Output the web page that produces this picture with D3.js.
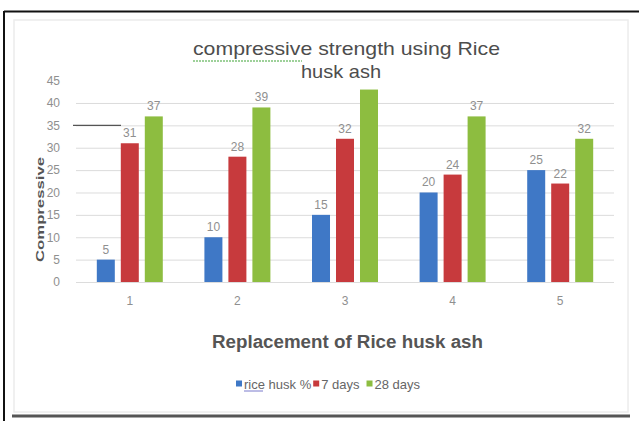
<!DOCTYPE html>
<html>
<head>
<meta charset="utf-8">
<script src="https://cdn.jsdelivr.net/npm/d3@7"></script>
<style>
  html, body { margin: 0; padding: 0; background: #fff; }
  svg { display: block; }
  .narrow { font-family: "Liberation Sans Narrow", "Liberation Sans", Arial, sans-serif; }
  .sans { font-family: "Liberation Sans", Arial, sans-serif; }
</style>
</head>
<body>
<svg id="chart" width="639" height="421"></svg>
<script>
// Replacement level groups on the x axis
const categories = ["1", "2", "3", "4", "5"];
// Series names shown in the legend
const seriesNames = ["rice husk %", "7 days", "28 days"];
// Values per series, one per replacement level
const riceHusk = [5, 10, 15, 20, 25];
const days7 = [31, 28, 32, 24, 22];
const days28 = [37, 39, 43, 37, 32];
// Data labels printed above bars (null = label not shown)
const labelsHusk = ["5", "10", "15", "20", "25"];
const labels7 = ["31", "28", "32", "24", "22"];
const labels28 = ["37", "39", null, "37", "32"];
// Y axis ticks
const yTicks = [0, 5, 10, 15, 20, 25, 30, 35, 40, 45];

const colors = ["#3f78c6", "#c73a3d", "#8dbd40"];
const seriesValues = [riceHusk, days7, days28];
const seriesLabels = [labelsHusk, labels7, labels28];

const svg = d3.select("#chart");

// outer frame
svg.append("rect").attr("x", 14).attr("y", 20).attr("width", 614).attr("height", 392)
  .attr("fill", "none").attr("stroke", "#ececec").attr("stroke-width", 1.5);
svg.append("line").attr("x1", 4).attr("x2", 639).attr("y1", 11.5).attr("y2", 11.5)
  .attr("stroke", "#111").attr("stroke-width", 2);
svg.append("line").attr("x1", 4).attr("x2", 4).attr("y1", 11).attr("y2", 421)
  .attr("stroke", "#111").attr("stroke-width", 2);
svg.append("line").attr("x1", 12).attr("x2", 630).attr("y1", 416).attr("y2", 416)
  .attr("stroke", "#555").attr("stroke-width", 3);

const x0 = d3.scaleBand().domain(categories).range([76, 614]).paddingInner(0.331).paddingOuter(0.1655);
const x1 = d3.scaleBand().domain(d3.range(3)).range([0, x0.bandwidth()]).paddingInner(0.25).paddingOuter(0.125);
const y = d3.scaleLinear().domain([0, 45]).range([282, 80.6]);

// gridlines
svg.append("g").selectAll("line").data(yTicks.filter(t => t < 45)).join("line")
  .attr("x1", 76).attr("x2", 614)
  .attr("y1", d => y(d) + 0.5).attr("y2", d => y(d) + 0.5)
  .attr("stroke", "#dcdcdc").attr("stroke-width", 1);

// y axis labels
const yAxis = d3.axisLeft(y).tickValues(yTicks).tickSize(0).tickPadding(0);
const ga = svg.append("g").attr("transform", "translate(60,0)").call(yAxis);
ga.select(".domain").remove();
ga.selectAll("text").attr("class", "narrow").attr("font-size", 12).attr("fill", "#8f8f8f");

// stray line across the 35 gridline
svg.append("line").attr("x1", 73).attr("x2", 121).attr("y1", y(35)).attr("y2", y(35))
  .attr("stroke", "#555").attr("stroke-width", 1.3);

// bars
const groups = svg.append("g").selectAll("g").data(categories).join("g")
  .attr("transform", d => `translate(${x0(d)},0)`);
groups.selectAll("rect").data((c, i) => seriesValues.map((s, k) => ({ k, v: s[i] })))
  .join("rect")
  .attr("x", d => x1(d.k)).attr("width", x1.bandwidth())
  .attr("y", d => y(d.v)).attr("height", d => y(0) - y(d.v))
  .attr("fill", d => colors[d.k]);

// data labels
groups.selectAll("text").data((c, i) => seriesValues.map((s, k) => ({ k, v: s[i], t: seriesLabels[k][i] })).filter(d => d.t !== null))
  .join("text")
  .attr("class", "narrow")
  .attr("x", d => x1(d.k) + x1.bandwidth() / 2).attr("y", d => y(d.v) - 6)
  .attr("text-anchor", "middle").attr("font-size", 12).attr("fill", "#8f8f8f")
  .text(d => d.t);

// x axis labels
const xAxis = d3.axisBottom(x0).tickSize(0).tickPadding(0);
const gx = svg.append("g").attr("transform", "translate(0,296)").call(xAxis);
gx.select(".domain").remove();
gx.selectAll("text").attr("class", "narrow").attr("font-size", 12).attr("fill", "#8f8f8f");

// title (two lines)
svg.append("text").attr("class", "sans").attr("x", 193).attr("y", 55)
  .attr("font-size", 19).attr("fill", "#4d4d4d")
  .attr("textLength", 307).attr("lengthAdjust", "spacingAndGlyphs")
  .text("compressive strength using Rice");
svg.append("text").attr("class", "sans").attr("x", 301).attr("y", 78)
  .attr("font-size", 19).attr("fill", "#4d4d4d")
  .attr("textLength", 80).attr("lengthAdjust", "spacingAndGlyphs")
  .text("husk ash");
// spell-check squiggle under the first word
svg.append("line").attr("x1", 193).attr("x2", 302).attr("y1", 61).attr("y2", 61)
  .attr("stroke", "#7fc27a").attr("stroke-width", 1.5).attr("stroke-dasharray", "2,1");

// axis titles
svg.append("text").attr("class", "sans").attr("x", 212).attr("y", 348)
  .attr("font-size", 17.5).attr("font-weight", "bold").attr("fill", "#555")
  .attr("textLength", 271).attr("lengthAdjust", "spacingAndGlyphs")
  .text("Replacement of Rice husk ash");
svg.append("text").attr("class", "sans")
  .attr("transform", "translate(44,262) rotate(-90)")
  .attr("font-size", 11.5).attr("font-weight", "bold").attr("fill", "#555")
  .attr("textLength", 105).attr("lengthAdjust", "spacingAndGlyphs")
  .text("Compressive");

// legend, items laid out one after another
const legend = svg.append("g").attr("transform", "translate(236,385)");
let lx = 0;
seriesNames.forEach((name, i) => {
  const item = legend.append("g").attr("transform", `translate(${lx},0)`);
  item.append("rect").attr("x", 0).attr("y", -4.5).attr("width", 6).attr("height", 6).attr("fill", colors[i]);
  const t = item.append("text").attr("class", "narrow").attr("x", 8).attr("y", 3.5)
    .attr("font-size", 13).attr("fill", "#666").text(name);
  if (i === 0) {
    item.append("line").attr("x1", 8).attr("x2", 27).attr("y1", 6).attr("y2", 6)
      .attr("stroke", "#7a7acc").attr("stroke-width", 1);
  }
  lx += 8 + t.node().getComputedTextLength() + (i === 0 ? 2 : 7);
});
</script>
</body>
</html>
